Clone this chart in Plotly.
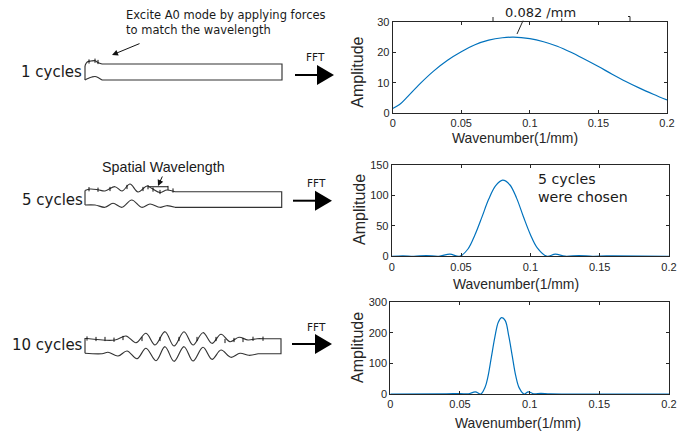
import plotly.graph_objects as go

W, H = 689, 432
BLUE = "#0072BD"
INK = "#262626"
STROKE = "#333333"
DEJAVU = "DejaVu Sans"
ARIAL = "Liberation Sans"

# ---- spectra ----
k1 = [0, .005, .01, .02, .03, .04, .05, .06, .07, .08, .088, .1, .11, .12, .13, .14, .15, .16, .17, .18, .19, .2]
a1 = [1.5, 2.8, 5, 9.7, 13.9, 17.4, 20.2, 22.5, 24, 24.8, 25, 24.5, 23.5, 22, 20, 17.7, 15.3, 12.8, 10.4, 8.2, 6.2, 4.3]

k2 = [0, .008, .016, .025, .034, .042, .049, .055, .06, .065, .07, .075, .08, .085, .09, .095, .1, .105, .112,
      .118, .125, .135, .145, .155, .2]
a2 = [0, .8, .1, 1.2, .1, 3.5, 0, 12, 35, 64, 94, 116, 125, 118, 96, 65, 36, 14, 0, 3.5, .2, 1.2, .1, .6, 0]

k3 = [0, .04, .05, .056, .061, .065, .068, .07, .0725, .075, .0775, .08, .0825, .085, .0875, .09, .0925, .096,
      .099, .103, .108, .115, .2]
a3 = [0, .5, 1.5, .5, 7, 0, 22, 55, 120, 185, 235, 250, 240, 190, 125, 60, 20, 0, 7, .5, 2, .3, 0]

x_ticks = [0, .05, .1, .15, .2]
x_labels = ["0", "0.05", "0.1", "0.15", "0.2"]
y_ticks1 = [0, 10, 20, 30]
y_ticks2 = [0, 50, 100, 150]
y_ticks3 = [0, 100, 200, 300]

# ---- panel boxes: left, right, top, bottom (px) ----
box1 = (392.7, 667, 22, 113)
box2 = (391.7, 669, 165, 256.3)
box3 = (390.3, 669, 302.3, 394)

# ---- axis title centres (px) ----
xtitle_pos = [(515, 138), (515.7, 284), (518, 422.5)]
ytitle_pos = [(358, 72.7), (359, 210), (357, 348)]

# ---- sketch lines (px on the page) ----
d1_top_x = [85, 86, 88, 91, 95, 98, 102]
d1_top_y = [66, 63.5, 61.5, 61, 60.7, 62.5, 64]
d1_bot_x = [85, 88, 92, 95, 98, 102]
d1_bot_y = [80, 78.5, 77, 76.5, 77.5, 80]
d1_frame_x = [85, 85, None, 102, 282, 282, 102]
d1_frame_y = [66, 80, None, 64, 64, 80, 80]
d1_force_x = [89, 95, 98]
d1_force_y = [61.5, 60.7, 62]

d2_top_x = [85, 90, 98, 105, 115, 122, 130, 138, 147, 152, 160, 167, 175]
d2_top_y = [190.5, 189, 189.7, 191, 186.7, 191, 184, 192, 186, 188.5, 192.5, 190, 191.7]
d2_bot_x = [85, 95, 105, 113, 122, 131.7, 141.7, 150, 160, 166.7, 175]
d2_bot_y = [205, 205, 207.3, 203.3, 207.3, 200, 207.3, 204, 207.3, 205.7, 207.3]
d2_frame_x = [85, 85, None, 175, 281.7, 281.7, 175]
d2_frame_y = [190.5, 205, None, 191.7, 191.7, 207.3, 207.3]
d2_force_x = [89, 98, 110, 127, 143, 148, 153, 160, 168, 173]
d2_force_y = [189.2, 189.7, 189, 187, 189, 187.2, 189.6, 192, 188, 190.5]
d2_span_x = [148, 168]
d2_span_y = [186.7, 186.7]

d3_top_x = [87, 115, 126, 136, 146, 155, 165, 174, 184, 193, 203, 212, 221, 230, 239, 248, 257, 263]
d3_top_y = [338.5, 340, 336, 342.7, 333.3, 345, 331.7, 346, 331.7, 345, 332.7, 343.3, 334.3, 341.7, 337.3, 340, 338.7, 338.7]
d3_bot_x = [85, 102, 108, 118, 127, 137, 146, 156, 165, 174, 184, 193, 203, 212, 221, 231, 240, 249, 258]
d3_bot_y = [353.3, 353.7, 352.3, 356, 351, 358.7, 348.3, 360.7, 346.7, 361.3, 346.7, 361, 347.3, 359.3, 350, 357.3, 353.3, 355.3, 353.7]
d3_frame_x = [87, 85, 85, None, 263, 281, 281, 258]
d3_frame_y = [338.5, 338.5, 353.3, None, 338.7, 338.7, 353.7, 353.7]
d3_force_x = [87, 96, 105, 114, 123, 142, 160, 179, 197, 216, 225, 234, 243, 253, 263]
d3_force_y = [338.5, 339, 339, 339.7, 338, 339, 339, 339, 339, 339, 341, 340, 340, 338.8, 338.7]

# FFT arrows: shaft start, head base, tip, axis height
arrow_shaft_x = [295, 293, 292]
arrow_base_x = [317, 315, 315]
arrow_tip_x = [334, 332, 332]
arrow_y = [75, 200.7, 344]
arrow_half = 10

# stray callout marks over the first panel
callout_x = [523, 517, None, 493, 493, None, 561.7, 561.7, None, 630, 630, None, 628, 630]
callout_y = [20.7, 34, None, 17, 21.5, None, 18.5, 21.5, None, 16.5, 21.5, None, 16.5, 16.5]

fig = go.Figure()


def dom_x(b):
    return [b[0] / W, b[1] / W]


def dom_y(b):
    return [1 - b[3] / H, 1 - b[2] / H]


def axis_common():
    return dict(showgrid=False, zeroline=False, showline=True, linecolor=INK, linewidth=1, mirror="ticks",
                ticks="inside", ticklen=3, tickwidth=1, tickcolor=INK, automargin=False,
                tickfont=dict(family=ARIAL, size=11, color=INK))


layout = {}
panels = [(k1, a1, box1, y_ticks1, "x", "y", ""), (k2, a2, box2, y_ticks2, "x2", "y2", "2"),
          (k3, a3, box3, y_ticks3, "x3", "y3", "3")]
for k, a, b, yt, xa, ya, n in panels:
    fig.add_trace(go.Scatter(x=k, y=a, xaxis=xa, yaxis=ya, mode="lines", showlegend=False,
                             line=dict(color=BLUE, width=1.2, shape="spline", smoothing=1.0)))
    layout["xaxis" + n] = dict(axis_common(), domain=dom_x(b), range=[0, .2], tickvals=x_ticks, ticktext=x_labels,
                               anchor="y" + n)
    layout["yaxis" + n] = dict(axis_common(), domain=dom_y(b), range=[0, yt[-1]], tickvals=yt, anchor="x" + n)


def px_line(xs, ys, smooth=False, color=STROKE, width=1.15):
    line = dict(color=color, width=width)
    if smooth:
        line.update(shape="spline", smoothing=1.0)
    fig.add_trace(go.Scatter(x=xs, y=ys, xaxis="x4", yaxis="y4", mode="lines", line=line, showlegend=False,
                             hoverinfo="skip"))


for xs, ys in [(d1_top_x, d1_top_y), (d1_bot_x, d1_bot_y), (d2_top_x, d2_top_y), (d2_bot_x, d2_bot_y),
               (d3_top_x, d3_top_y), (d3_bot_x, d3_bot_y)]:
    px_line(xs, ys, smooth=True)
for xs, ys in [(d1_frame_x, d1_frame_y), (d2_frame_x, d2_frame_y), (d3_frame_x, d3_frame_y), (d2_span_x, d2_span_y)]:
    px_line(xs, ys)
px_line(callout_x, callout_y, color=INK, width=1.0)

for xs, ys in [(d1_force_x, d1_force_y), (d2_force_x, d2_force_y), (d3_force_x, d3_force_y)]:
    fig.add_trace(go.Scatter(x=xs, y=ys, xaxis="x4", yaxis="y4", mode="markers", showlegend=False, hoverinfo="skip",
                             marker=dict(symbol="line-ns", size=3, line=dict(color="#111111", width=1))))

for s, base, tip, y in zip(arrow_shaft_x, arrow_base_x, arrow_tip_x, arrow_y):
    px_line([s, base], [y, y], color="#000000", width=2)
    fig.add_trace(go.Scatter(x=[base, tip, base, base], y=[y - arrow_half, y, y + arrow_half, y - arrow_half],
                             xaxis="x4", yaxis="y4", mode="lines", fill="toself", fillcolor="#000000",
                             line=dict(color="#000000", width=0), showlegend=False, hoverinfo="skip"))


def note(text, x, y, size, family=DEJAVU, color="#1a1a1a", anchor="center", align="center", angle=0):
    return dict(text=text, x=x, y=y, xref="x4", yref="y4", showarrow=False, xanchor=anchor, yanchor="middle",
                align=align, textangle=angle, font=dict(family=family, size=size, color=color))


def pointer(x0, y0, x1, y1):
    return dict(text="", x=x1, y=y1, ax=x0, ay=y0, xref="x4", yref="y4", axref="x4", ayref="y4", showarrow=True,
                arrowhead=2, arrowsize=1.2, arrowwidth=1, arrowcolor="#111111")


annotations = [
    note("1 cycles", 84, 72, 15, anchor="right"),
    note("5 cycles", 85, 200, 15, anchor="right"),
    note("10 cycles", 85, 344.5, 15, anchor="right"),
    note("Excite A0 mode by applying forces<br>to match the wavelength", 123.5, 22.5, 11.5, anchor="left", align="left"),
    note("Spatial Wavelength", 163.5, 167, 14.3, family=ARIAL),
    note("FFT", 315, 57, 10.5),
    note("FFT", 316, 182.7, 10.5),
    note("FFT", 316, 326.7, 10.5),
    note("0.082 /mm", 540, 12.3, 13),
    note("5 cycles<br>were chosen", 536, 188, 14.2, anchor="left", align="left"),
    pointer(141, 43, 112, 55),
    pointer(163, 175, 158, 186),
]
for x, y in xtitle_pos:
    annotations.append(note("Wavenumber(1/mm)", x, y, 13.9, family=ARIAL, color=INK))
for x, y in ytitle_pos:
    annotations.append(note("Amplitude", x, y, 16, family=ARIAL, color=INK, angle=-90))

fig.update_layout(
    width=W, height=H, margin=dict(l=0, r=0, t=0, b=0), paper_bgcolor="white", plot_bgcolor="rgba(0,0,0,0)",
    showlegend=False, annotations=annotations,
    xaxis4=dict(domain=[0, 1], range=[0, W], visible=False, anchor="y4", fixedrange=True),
    yaxis4=dict(domain=[0, 1], range=[H, 0], visible=False, anchor="x4", fixedrange=True),
    **layout,
)
fig.write_html("out.html", config=dict(displayModeBar=False),
               post_script="document.body.style.margin='0';document.documentElement.style.overflow='hidden';")
